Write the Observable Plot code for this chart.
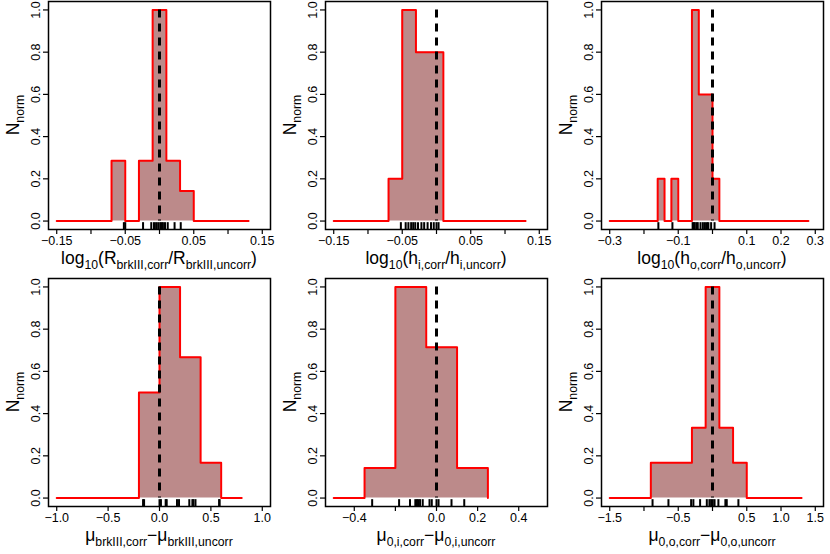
<!DOCTYPE html>
<html><head><meta charset="utf-8">
<script src="https://cdn.jsdelivr.net/npm/d3@7"></script>
<script src="https://cdn.jsdelivr.net/npm/@observablehq/plot@0.6"></script>
<style>
body{margin:0;background:#fff;}
#wrap{position:relative;width:830px;height:554px;overflow:hidden;background:#fff;}
.panel{position:absolute;}
</style></head><body><div id="wrap"></div>
<script>
// ---------- data ----------
// histogram bin edges
const breaks1 = [-0.15,-0.13,-0.11,-0.09,-0.07,-0.05,-0.03,-0.01,0.01,0.03,0.05,0.07,0.09,0.11,0.13];
const breaks2 = [-0.15,-0.13,-0.11,-0.09,-0.07,-0.05,-0.03,-0.01,0.01,0.03,0.05,0.07,0.09,0.11,0.13];
const breaks3 = [-0.30,-0.28,-0.26,-0.24,-0.22,-0.20,-0.18,-0.16,-0.14,-0.12,-0.10,-0.08,-0.06,-0.04,-0.02,0.00,0.02,0.04,0.06,0.08,0.10,0.12,0.14,0.16,0.18,0.20,0.22,0.24,0.26,0.28];
const breaks4 = [-1.0,-0.8,-0.6,-0.4,-0.2,0.0,0.2,0.4,0.6,0.8];
const breaks5 = [-0.5,-0.35,-0.2,-0.05,0.1,0.25];
const breaks6 = [-1.5,-1.3,-1.1,-0.9,-0.7,-0.5,-0.3,-0.1,0.1,0.3,0.5,0.7,0.9,1.1,1.3];
// counts per bin
const counts1 = [0,0,0,0,2,0,2,7,2,1,0,0,0,0];
const counts2 = [0,0,0,0,1,5,4,4,0,0,0,0,0,0];
const counts3 = [0,0,0,0,0,0,0,1,0,1,0,0,5,3,3,1,0,0,0,0,0,0,0,0,0,0,0,0,0];
const counts4 = [0,0,0,0,3,6,4,1,0];
const counts5 = [0,1,7,5,1];
const counts6 = [0,0,0,1,1,1,2,6,2,1,0,0,0,0];
// individual values (rug)
const rug1 = [-0.052,-0.050,-0.024,-0.012,-0.008,-0.005,-0.002,0.001,0.003,0.005,0.008,0.012,0.022,0.031];
const rug2 = [-0.052,-0.045,-0.041,-0.037,-0.034,-0.031,-0.027,-0.022,-0.018,-0.013,-0.008,-0.004,0.000,0.003];
const rug3 = [-0.158,-0.117,-0.058,-0.055,-0.052,-0.047,-0.043,-0.035,-0.028,-0.022,-0.016,-0.012,-0.004,0.006];
const rug4 = [-0.16,-0.15,0.0,0.014,0.06,0.07,0.17,0.19,0.29,0.32,0.33,0.35,0.58,0.585];
const rug5 = [-0.313,-0.182,-0.129,-0.103,-0.095,-0.088,-0.080,-0.067,-0.034,-0.023,0.0,0.01,0.073,0.135];
const rug6 = [-0.875,-0.643,-0.312,-0.279,-0.181,-0.083,-0.045,-0.02,0.004,0.03,0.086,0.188,0.208,0.378];
// x-axis limits (symmetric) and ticks / labels
const xlims = [0.15, 0.15, 0.3, 1.0, 0.5, 1.5];
const xticks1 = [-0.15,-0.10,-0.05,0,0.05,0.10,0.15];
const xlabels1 = ["\u22120.15","","\u22120.05","","0.05","","0.15"];
const xticks2 = [-0.15,-0.10,-0.05,0,0.05,0.10,0.15];
const xlabels2 = ["\u22120.15","","\u22120.05","","0.05","","0.15"];
const xticks3 = [-0.3,-0.2,-0.1,0,0.1,0.2,0.3];
const xlabels3 = ["\u22120.3","","\u22120.1","","0.1","0.2","0.3"];
const xticks4 = [-1.0,-0.5,0,0.5,1.0];
const xlabels4 = ["\u22121.0","\u22120.5","0.0","0.5","1.0"];
const xticks5 = [-0.4,-0.2,0,0.2,0.4];
const xlabels5 = ["\u22120.4","","0.0","0.2","0.4"];
const xticks6 = [-1.5,-1.0,-0.5,0,0.5,1.0,1.5];
const xlabels6 = ["\u22121.5","","\u22120.5","","0.5","1.0","1.5"];
const yticks = [0,0.2,0.4,0.6,0.8,1.0];
const ylabels = ["0.0","0.2","0.4","0.6","0.8","1.0"];
// axis titles: [text, isSubscript]
const xtitles = [
  [["log",0],["10",1],["(R",0],["brkIII,corr",1],["/R",0],["brkIII,uncorr",1],[")",0]],
  [["log",0],["10",1],["(h",0],["i,corr",1],["/h",0],["i,uncorr",1],[")",0]],
  [["log",0],["10",1],["(h",0],["o,corr",1],["/h",0],["o,uncorr",1],[")",0]],
  [["\u03bc",0],["brkIII,corr",1],["\u2212\u03bc",0],["brkIII,uncorr",1]],
  [["\u03bc",0],["0,i,corr",1],["\u2212\u03bc",0],["0,i,uncorr",1]],
  [["\u03bc",0],["0,o,corr",1],["\u2212\u03bc",0],["0,o,uncorr",1]]
];
const ytitle = [["N",0],["norm",1]];
const dashAt = 0;

// ---------- drawing ----------
const FONT = "'Liberation Sans', Arial, Helvetica, sans-serif";
const FILL = "#bc8a8a";
const RED = "#ff0000";
const panels = [
  {breaks: breaks1, counts: counts1, rug: rug1, lim: xlims[0], ticks: xticks1, labels: xlabels1, title: xtitles[0]},
  {breaks: breaks2, counts: counts2, rug: rug2, lim: xlims[1], ticks: xticks2, labels: xlabels2, title: xtitles[1]},
  {breaks: breaks3, counts: counts3, rug: rug3, lim: xlims[2], ticks: xticks3, labels: xlabels3, title: xtitles[2]},
  {breaks: breaks4, counts: counts4, rug: rug4, lim: xlims[3], ticks: xticks4, labels: xlabels4, title: xtitles[3]},
  {breaks: breaks5, counts: counts5, rug: rug5, lim: xlims[4], ticks: xticks5, labels: xlabels5, title: xtitles[4]},
  {breaks: breaks6, counts: counts6, rug: rug6, lim: xlims[5], ticks: xticks6, labels: xlabels6, title: xtitles[5]}
];
const wrap = document.getElementById("wrap");
const W = 830 / 3, H = 277;
const ML = 48, MT = 1, MB = 48, FW = 222;
const ydom = [-0.04, 1.04];
const TICKFS = 12.5, TITLEFS = 17.5;

function addRichText(svg, parts, x, y, rotate, size) {
  const t = svg.append("text")
    .attr("text-anchor", "middle")
    .attr("transform", `translate(${x},${y})` + (rotate ? ` rotate(${rotate})` : ""))
    .attr("fill", "black")
    .style("font-family", FONT)
    .style("font-size", size + "px");
  const shift = size * 0.28;
  let cur = 0;
  parts.forEach(([s, sub]) => {
    const target = sub ? shift : 0;
    t.append("tspan")
      .attr("dy", target - cur)
      .style("font-size", sub ? (size * 0.7) + "px" : size + "px")
      .text(s);
    cur = target;
  });
}

panels.forEach((p, i) => {
  const col = i % 3, row = Math.floor(i / 3);
  const left = Math.round(col * W), top = row * H;
  const width = Math.round((col + 1) * W) - left;
  const mx = d3.max(p.counts);
  const step = [{x: p.breaks[0], y: 0}];
  p.counts.forEach((c, k) => step.push({x: p.breaks[k], y: c / mx}));
  step.push({x: p.breaks[p.breaks.length - 1], y: 0});
  const lim = p.lim * 1.08;
  const rugLen = 0.03 * (ydom[1] - ydom[0]);
  const chart = Plot.plot({
    width, height: H,
    marginLeft: ML, marginRight: width - ML - FW, marginTop: MT, marginBottom: MB,
    x: {domain: [-lim, lim], label: null},
    y: {domain: ydom, label: null},
    style: {fontFamily: FONT, fontSize: TICKFS + "px", color: "black", background: "white", overflow: "visible"},
    marks: [
      Plot.areaY(step, {x: "x", y: "y", curve: "step-after", fill: FILL}),
      Plot.line(step, {x: "x", y: "y", curve: "step-after", stroke: RED, strokeWidth: 2}),
      Plot.ruleX(p.rug, {x: d => d, y1: ydom[0], y2: ydom[0] + rugLen, stroke: "black", strokeWidth: 2}),
      Plot.ruleX([dashAt], {x: d => d, y1: 1, y2: 0, stroke: "black", strokeWidth: 3, strokeDasharray: "8,6"}),
      Plot.frame({stroke: "black", strokeWidth: 1.5}),
      Plot.axisX({ticks: p.ticks, tickFormat: d => p.labels[p.ticks.indexOf(d)], label: null, tickSize: 5, tickPadding: 2, fontSize: TICKFS, stroke: "black", strokeWidth: 1.2}),
      Plot.axisY({ticks: yticks, tickFormat: d => ylabels[yticks.indexOf(d)], label: null, tickSize: 5, tickPadding: 4, tickRotate: -90, fontSize: TICKFS, stroke: "black", strokeWidth: 1.2})
    ]
  });
  const svg = d3.select(chart);
  svg.selectAll("text").style("font-size", TICKFS + "px").style("font-family", FONT);
  const cx = ML + FW / 2;
  addRichText(svg, p.title, cx, 264, 0, TITLEFS);
  addRichText(svg, ytitle, 19, MT + (H - MT - MB) / 2, -90, TITLEFS);
  const div = document.createElement("div");
  div.className = "panel";
  div.style.left = left + "px";
  div.style.top = top + "px";
  div.appendChild(chart);
  wrap.appendChild(div);
});
</script>
</body></html>
